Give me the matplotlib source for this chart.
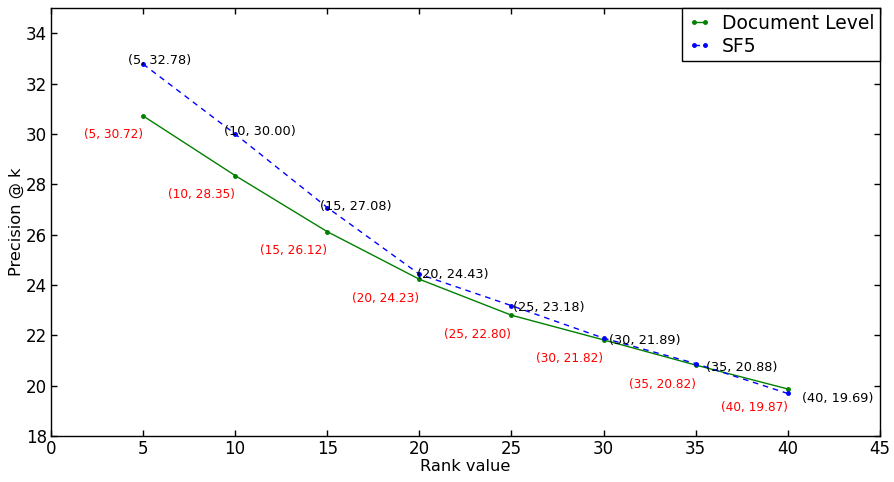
import matplotlib
matplotlib.use("Agg")
import matplotlib.pyplot as plt
import numpy as np

ranks = [5, 10, 15, 20, 25, 30, 35, 40]
doc_level = [30.72, 28.35, 26.12, 24.23, 22.80, 21.82, 20.82, 19.87]
sf5 = [32.78, 30.00, 27.08, 24.43, 23.18, 21.89, 20.88, 19.69]
x_ticks = list(range(0, 46, 5))
y_ticks = list(range(18, 35, 2))

plt.rcParams["font.family"] = "DejaVu Sans"

fig = plt.figure(figsize=(8.95, 4.82), dpi=100)
ax = fig.add_axes([0.057, 0.0954, 0.926, 0.8876])

ax.plot(ranks, doc_level, color=(0, 0.5, 0), linestyle="-", marker="o",
        markersize=2.5, linewidth=1.0, label="Document Level")
ax.plot(ranks, sf5, color=(0, 0, 1), linestyle=(0, (4, 3.5)), marker="o",
        markersize=2.5, linewidth=1.0, label="SF5")

for x, y in zip(ranks, doc_level):
    ax.annotate(f"({x}, {y:.2f})", xy=(x, y), xytext=(0, -19 * 0.72),
                textcoords="offset points", ha="right", va="center",
                color="red", fontsize=8.7)

for x, y in zip(ranks, sf5):
    dx = (-19.5 + 0.84 * x) * 0.72
    dy = -(-3.7 + 0.26 * (x - 5)) * 0.72
    ax.annotate(f"({x}, {y:.2f})", xy=(x, y), xytext=(dx, dy),
                textcoords="offset points", ha="left", va="center",
                color="black", fontsize=9.3)

ax.set_xlim(0, 45)
ax.set_ylim(18, 35)
ax.set_xticks(x_ticks)
ax.set_yticks(y_ticks)
ax.tick_params(direction="in", top=True, right=True, length=4, width=1,
               labelsize=12, pad=3)
for s in ax.spines.values():
    s.set_linewidth(1.0)

ax.set_xlabel("Rank value", fontsize=11.7, labelpad=0.5)
ax.set_ylabel("Precision @ k", fontsize=11.7, labelpad=1.5)

leg = ax.legend(loc="upper right", fontsize=13.5, borderaxespad=0,
                fancybox=False, framealpha=1, edgecolor="black",
                handlelength=1.2, handletextpad=0.6, borderpad=0.3,
                labelspacing=0.2, numpoints=2)
leg.get_frame().set_linewidth(1.0)

fig.savefig("out.png", dpi=100)
